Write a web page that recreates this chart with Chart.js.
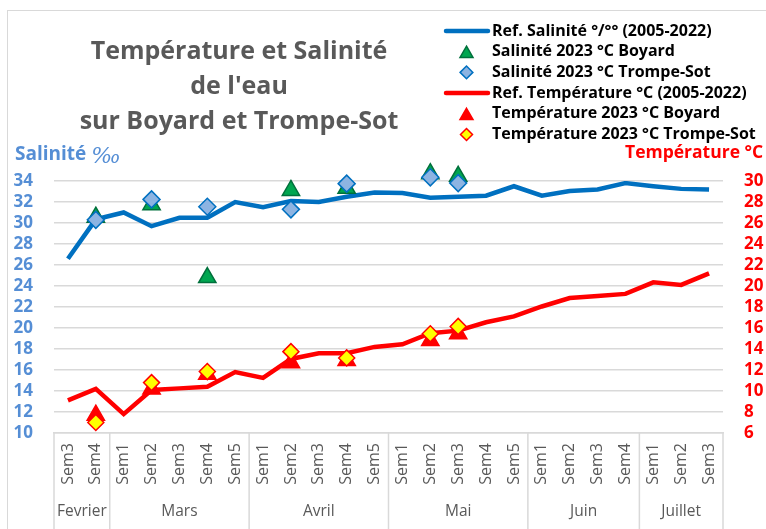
<!DOCTYPE html>
<html>
<head>
<meta charset="utf-8">
<script src="https://cdn.jsdelivr.net/npm/chart.js@4"></script>
<style>
  body { margin: 0; background: #fff; }
  #wrap { width: 766px; height: 529px; position: relative; }
</style>
</head>
<body>
<div id="wrap"><canvas id="chart"></canvas></div>
<script>
// semaines (axe x) et mois
var semaines = ['Sem3','Sem4','Sem1','Sem2','Sem3','Sem4','Sem5','Sem1','Sem2','Sem3','Sem4','Sem5',
                'Sem1','Sem2','Sem3','Sem4','Sem5','Sem1','Sem2','Sem3','Sem4','Sem1','Sem2','Sem3'];
var mois = ['Fevrier', 'Mars', 'Avril', 'Mai', 'Juin', 'Juillet'];
var semainesParMois = [2, 5, 5, 5, 4, 3];

// salinite
var refSalinite = [26.6, 30.35, 31.0, 29.7, 30.5, 30.5, 32.0, 31.5, 32.1, 32.0, 32.5, 32.9,
                   32.85, 32.4, 32.5, 32.6, 33.5, 32.6, 33.05, 33.2, 33.8, 33.5, 33.25, 33.2];
var salBoyard = [null, 30.55, null, 31.75, null, 24.8, null, null, 33.1, null, 33.3, null,
                 null, 34.7, 34.45, null, null, null, null, null, null, null, null, null];
var salTrompeSot = [null, 30.3, null, 32.25, null, 31.55, null, null, 31.3, null, 33.75, null,
                    null, 34.35, 33.8, null, null, null, null, null, null, null, null, null];

// temperature
var refTemperature = [9.1, 10.2, 7.8, 10.1, 10.25, 10.4, 11.8, 11.25, 13.05, 13.6, 13.6, 14.2,
                      14.45, 15.5, 15.75, 16.55, 17.1, 18.05, 18.85, 19.05, 19.25, 20.35, 20.1, 21.2];
var tempBoyard = [null, 7.7, null, 10.2, null, 11.6, null, null, 12.7, null, 12.9, null,
                  null, 14.8, 15.45, null, null, null, null, null, null, null, null, null];
var tempTrompeSot = [null, 7.0, null, 10.8, null, 11.85, null, null, 13.75, null, 13.15, null,
                     null, 15.45, 16.15, null, null, null, null, null, null, null, null, null];

var grisGrille = '#d9d9d9';
var bleuAxe = '#558ED5';

var decor = {
  id: 'decor',
  beforeDraw: function (chart) {
    var ctx = chart.ctx;
    ctx.save();
    ctx.strokeStyle = grisGrille;
    ctx.lineWidth = 1;
    ctx.strokeRect(7.5, 10.5, 800, 600);
    ctx.restore();
  },
  afterDraw: function (chart) {
    var ctx = chart.ctx;
    var area = chart.chartArea;
    var x = chart.scales.x;
    ctx.save();

    // titre
    ctx.fillStyle = '#595959';
    ctx.font = 'bold 25px "Open Sans"';
    ctx.textAlign = 'center';
    ctx.textBaseline = 'middle';
    var titre = ['Température et Salinité', "de l'eau", 'sur Boyard et Trompe-Sot'];
    titre.forEach(function (t, i) { ctx.fillText(t, 239, 52 + i * 35); });

    // titres des axes
    ctx.textAlign = 'left';
    ctx.fillStyle = bleuAxe;
    ctx.font = 'bold 19px "Open Sans"';
    ctx.fillText('Salinité', 15, 155);
    var w = ctx.measureText('Salinité ').width;
    ctx.font = 'italic 22px "DejaVu Serif"';
    ctx.fillText('‰', 15 + w, 157);
    ctx.fillStyle = '#FF0000';
    ctx.font = 'bold 17.5px "Open Sans"';
    ctx.fillText('Température °C', 625, 153);

    // legende
    ctx.font = 'bold 16px "Open Sans"';
    chart.data.datasets.forEach(function (ds, i) {
      var y = 31 + i * 20.7;
      if (ds.showLine === false) {
        ctx.fillStyle = ds.pointBackgroundColor;
        ctx.strokeStyle = ds.pointBorderColor;
        ctx.lineWidth = ds.pointBorderWidth;
        Chart.helpers.drawPoint(ctx, {
          pointStyle: ds.pointStyle, radius: ds.pointRadius * 0.75, rotation: 0,
          borderWidth: ds.pointBorderWidth
        }, 466.5, ds.pointStyle === 'triangle' ? y + 2 : y);
      } else {
        ctx.strokeStyle = ds.borderColor;
        ctx.lineWidth = ds.borderWidth;
        ctx.lineCap = 'round';
        ctx.beginPath();
        ctx.moveTo(446, y);
        ctx.lineTo(488, y);
        ctx.stroke();
      }
      ctx.fillStyle = '#000';
      ctx.fillText(ds.label, 492, y);
    });

    // mois et separateurs sous l'axe x
    ctx.strokeStyle = grisGrille;
    ctx.lineWidth = 1.5;
    ctx.fillStyle = '#595959';
    ctx.font = '15.5px "Open Sans"';
    ctx.textAlign = 'center';
    var debut = 0;
    var bords = [area.left];
    semainesParMois.forEach(function (n, k) {
      var fin = debut + n;
      var droite = fin < semaines.length
        ? (x.getPixelForValue(fin - 1) + x.getPixelForValue(fin)) / 2 : area.right;
      bords.push(droite);
      ctx.fillText(mois[k], (bords[k] + droite) / 2, 512);
      debut = fin;
    });
    bords.forEach(function (b) {
      ctx.beginPath();
      ctx.moveTo(b, area.bottom);
      ctx.lineTo(b, chart.height);
      ctx.stroke();
    });
    ctx.restore();
  }
};

function marqueurs(label, data, style, fond, bord, rayon, ordre) {
  return {
    label: label, data: data, showLine: false, spanGaps: false, clip: false,
    yAxisID: label.indexOf('Salinit') === 0 ? 'y' : 'y1',
    pointStyle: style, pointRadius: rayon, pointHoverRadius: rayon,
    pointBackgroundColor: fond, pointBorderColor: bord, pointBorderWidth: 1.5,
    backgroundColor: fond, borderColor: bord, order: ordre
  };
}

new Chart(document.getElementById('chart'), {
  type: 'line',
  data: {
    labels: semaines,
    datasets: [
      {
        label: 'Ref. Salinité °/°° (2005-2022)', data: refSalinite, yAxisID: 'y',
        borderColor: '#0070C0', backgroundColor: '#0070C0', borderWidth: 4.5,
        pointRadius: 0, tension: 0, order: 10
      },
      marqueurs('Salinité 2023 °C Boyard', salBoyard, 'triangle', '#00A650', '#00703C', 10, 9),
      marqueurs('Salinité 2023 °C Trompe-Sot', salTrompeSot, 'rectRot', '#8DB4E2', '#0070C0', 8.5, 8),
      {
        label: 'Ref. Température °C (2005-2022)', data: refTemperature, yAxisID: 'y1',
        borderColor: '#FF0000', backgroundColor: '#FF0000', borderWidth: 4.5,
        pointRadius: 0, tension: 0, order: 7
      },
      marqueurs('Température 2023 °C Boyard', tempBoyard, 'triangle', '#FF0000', '#FF0000', 10, 6),
      marqueurs('Température 2023 °C Trompe-Sot', tempTrompeSot, 'rectRot', '#FFFF00', '#FF0000', 8, 5)
    ]
  },
  options: {
    responsive: true,
    maintainAspectRatio: false,
    animation: false,
    layout: { padding: { top: 181, left: 0, right: 0, bottom: 0 } },
    plugins: { legend: { display: false }, title: { display: false }, tooltip: { enabled: false } },
    scales: {
      x: {
        offset: true,
        grid: { display: false, drawTicks: false, offset: true },
        border: { display: true, color: grisGrille, width: 1.5 },
        ticks: {
          color: '#595959', font: { family: 'Open Sans', size: 16 },
          minRotation: 90, maxRotation: 90, autoSkip: false, padding: 10
        },
        afterFit: function (s) { s.height = 96; }
      },
      y: {
        position: 'left', min: 10, max: 34,
        grid: { color: grisGrille, lineWidth: 1.5, drawTicks: false },
        border: { display: false },
        ticks: {
          stepSize: 2, padding: 21, color: bleuAxe, autoSkip: false,
          font: { family: 'Open Sans', size: 17, weight: 'bold' }
        },
        afterFit: function (s) { s.width = 54; }
      },
      y1: {
        position: 'right', min: 6, max: 30,
        grid: { display: false, drawTicks: false },
        border: { display: false },
        ticks: {
          stepSize: 2, padding: 21, color: '#FF0000', autoSkip: false,
          font: { family: 'Open Sans', size: 17, weight: 'bold' }
        },
        afterFit: function (s) { s.width = 43; }
      }
    }
  },
  plugins: [decor]
});
</script>
</body>
</html>
